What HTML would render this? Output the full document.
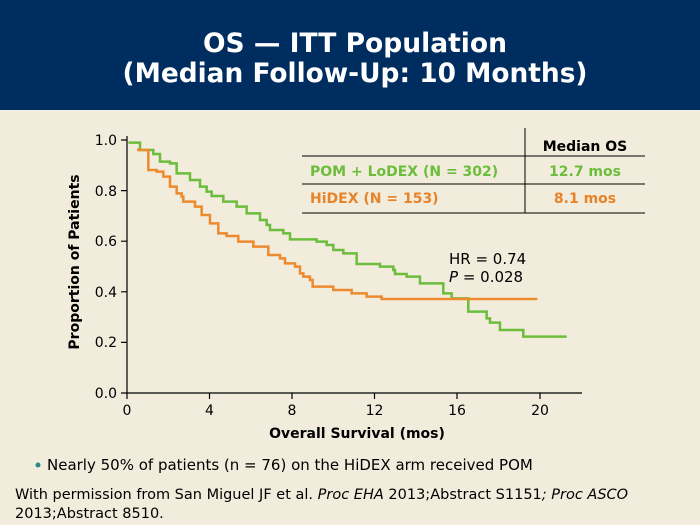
<!DOCTYPE html>
<html><head><meta charset="utf-8"><style>
html,body{margin:0;padding:0;width:700px;height:525px;overflow:hidden;background:#f2ecdc}
svg{display:block}
</style></head><body>
<svg width="700" height="525" viewBox="0 0 700 525" xmlns="http://www.w3.org/2000/svg" font-family="DejaVu Sans, Verdana, sans-serif">
<rect x="0" y="0" width="700" height="525" fill="#f2ecdc"/>
<rect x="0" y="0" width="700" height="110" fill="#002d5f"/>
<text x="355" y="52" fill="#fff" font-size="27" font-weight="bold" text-anchor="middle" textLength="304" lengthAdjust="spacingAndGlyphs">OS — ITT Population</text>
<text x="355" y="82" fill="#fff" font-size="27" font-weight="bold" text-anchor="middle" textLength="465" lengthAdjust="spacingAndGlyphs">(Median Follow-Up: 10 Months)</text>

<!-- axes -->
<g stroke="#000" stroke-width="1.2" fill="none">
<path d="M127 136 V393 H582"/>
<path d="M121 140H127 M121 190.6H127 M121 241.2H127 M121 291.8H127 M121 342.4H127 M121 393H127"/>
<path d="M127 393V399 M209.5 393V399 M292 393V399 M374.5 393V399 M457 393V399 M540 393V399"/>
</g>
<g font-size="14" fill="#000" text-anchor="end">
<text x="117" y="145">1.0</text><text x="117" y="196">0.8</text><text x="117" y="246">0.6</text>
<text x="117" y="297">0.4</text><text x="117" y="347">0.2</text><text x="117" y="398">0.0</text>
</g>
<g font-size="14" fill="#000" text-anchor="middle">
<text x="127" y="415">0</text><text x="209.5" y="415">4</text><text x="292" y="415">8</text>
<text x="374.5" y="415">12</text><text x="457" y="415">16</text><text x="540" y="415">20</text>
</g>
<text x="357" y="438" font-size="14" font-weight="bold" text-anchor="middle">Overall Survival (mos)</text>
<text transform="translate(79,262) rotate(-90)" font-size="14" font-weight="bold" text-anchor="middle">Proportion of Patients</text>

<!-- table -->
<g stroke="#000" stroke-width="1">
<line x1="525" y1="128" x2="525" y2="213"/>
<line x1="302" y1="156" x2="645" y2="156"/>
<line x1="302" y1="184" x2="645" y2="184"/>
<line x1="302" y1="213" x2="645" y2="213"/>
</g>
<text x="585" y="151" font-size="14" font-weight="bold" text-anchor="middle">Median OS</text>
<text x="310" y="176" font-size="14" font-weight="bold" fill="#6cbd3c">POM + LoDEX (N = 302)</text>
<text x="585" y="176" font-size="14" font-weight="bold" fill="#6cbd3c" text-anchor="middle">12.7 mos</text>
<text x="310" y="203" font-size="14" font-weight="bold" fill="#e8832a">HiDEX (N = 153)</text>
<text x="585" y="203" font-size="14" font-weight="bold" fill="#e8832a" text-anchor="middle">8.1 mos</text>

<text x="449" y="264" font-size="15">HR = 0.74</text>
<text x="449" y="282" font-size="15"><tspan font-style="italic">P</tspan> = 0.028</text>

<g transform="translate(120,130) scale(0.3333)" fill="none" stroke-width="7.5">
<path stroke="#6cbd3c" d="M25 38 H60 V60 H100 V72 H120 V95 H150 V100 H170 V130 H210 V150 H240 V170 H260 V185 H275 V198 H310 V215 H350 V230 H380 V250 H420 V270 H440 V285 H450 V300 H490 V310 H510 V328 H590 V335 H620 V345 H640 V360 H670 V370 H710 V402 H780 V410 H820 V420 H825 V432 H860 V440 H900 V460 H970 V490 H995 V505 H1045 V545 H1100 V565 H1110 V578 H1140 V600 H1210 V620 H1340"/>
<path stroke="#ee8a2e" d="M55 55 V60 H85 V120 H110 V125 H130 V140 H150 V170 H170 V190 H185 V200 H190 V215 H225 V230 H245 V255 H270 V280 H295 V310 H320 V318 H355 V335 H400 V350 H445 V375 H480 V385 H495 V400 H525 V410 H540 V430 H550 V440 H570 V450 H578 V470 H640 V480 H695 V490 H740 V500 H785 V507 H1252"/>
</g>

<circle cx="38" cy="465" r="2.5" fill="#2a8a8a"/>
<text x="47" y="470" font-size="15">Nearly 50% of patients (n = 76) on the HiDEX arm received POM</text>
<text x="15" y="499" font-size="14.5">With permission from San Miguel JF et al. <tspan font-style="italic">Proc EHA</tspan> 2013;Abstract S1151<tspan font-style="italic">; Proc ASCO</tspan></text>
<text x="15" y="518" font-size="14.5">2013;Abstract 8510.</text>
</svg>
</body></html>
